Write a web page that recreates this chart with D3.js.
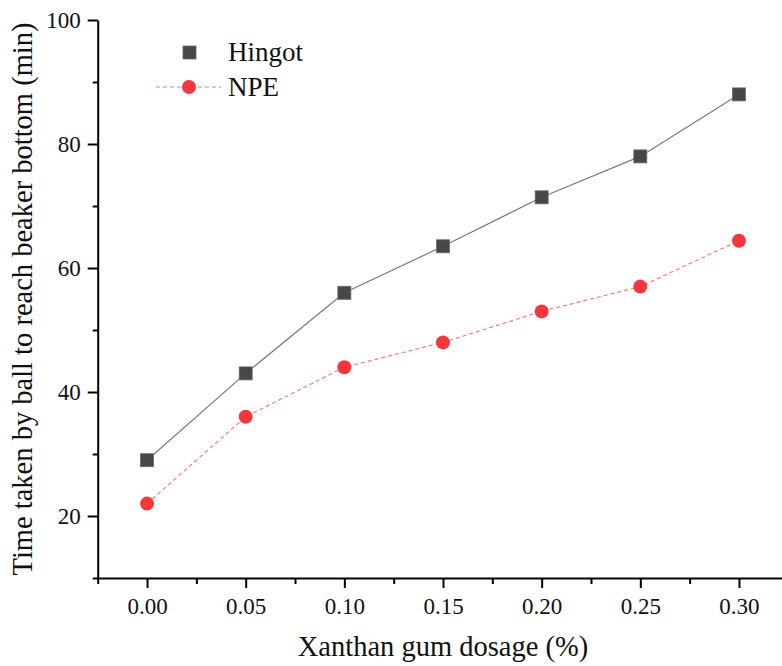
<!DOCTYPE html>
<html>
<head>
<meta charset="utf-8">
<script src="https://cdn.jsdelivr.net/npm/d3@7"></script>
<style>
  body { margin: 0; background: #fff; }
  svg { display: block; }
</style>
</head>
<body>
<div id="chart"></div>
<script>
// data
const dosage = [0.00, 0.05, 0.10, 0.15, 0.20, 0.25, 0.30];
const hingot = [29, 43, 56, 63.5, 71.4, 78, 88];
const npe = [22, 36, 44, 48, 53, 57, 64.4];
const yTicks = [20, 40, 60, 80, 100];
const yMinor = [10, 30, 50, 70, 90];
const xMinor = [-0.025, 0.025, 0.075, 0.125, 0.175, 0.225, 0.275, 0.325];

const width = 782, height = 666;
const font = "'Liberation Serif', 'Times New Roman', serif";

const svg = d3.select("#chart")
    .append("svg")
    .attr("width", width)
    .attr("height", height);

const x = d3.scaleLinear().domain([-0.025, 0.325]).range([97.7, 788.3]);
const y = d3.scaleLinear().domain([10, 100]).range([578, 20]);

// minor ticks
svg.append("g")
    .attr("transform", "translate(0,578)")
    .call(d3.axisBottom(x).tickValues(xMinor).tickSize(6).tickFormat(""))
    .call(g => g.select(".domain").remove())
    .selectAll("line").attr("stroke-width", 2);
svg.append("g")
    .attr("transform", "translate(97.7,0)")
    .call(d3.axisLeft(y).tickValues(yMinor).tickSize(5).tickFormat(""))
    .call(g => g.select(".domain").remove())
    .selectAll("line").attr("stroke-width", 2);

// x axis
const xAxis = svg.append("g")
    .attr("transform", "translate(0,578)")
    .call(d3.axisBottom(x).tickValues(dosage).tickSize(10).tickSizeOuter(0).tickPadding(10)
        .tickFormat(d3.format(".2f")));
xAxis.select(".domain").attr("stroke-width", 2);
xAxis.selectAll(".tick line").attr("stroke-width", 2);
xAxis.selectAll("text")
    .attr("font-family", font)
    .attr("font-size", "23px")
    .attr("fill", "#111");

// y axis
const yAxis = svg.append("g")
    .attr("transform", "translate(97.7,0)")
    .call(d3.axisLeft(y).tickValues(yTicks).tickSize(10).tickSizeOuter(0).tickPadding(7));
yAxis.select(".domain").attr("stroke-width", 2);
yAxis.selectAll(".tick line").attr("stroke-width", 2);
yAxis.selectAll("text")
    .attr("font-family", font)
    .attr("font-size", "23px")
    .attr("fill", "#111");

// axis titles
svg.append("text")
    .attr("x", 443)
    .attr("y", 656)
    .attr("text-anchor", "middle")
    .attr("font-family", font)
    .attr("font-size", "28.5px")
    .attr("fill", "#111")
    .text("Xanthan gum dosage (%)");

svg.append("text")
    .attr("transform", "translate(32,299) rotate(-90)")
    .attr("text-anchor", "middle")
    .attr("font-family", font)
    .attr("font-size", "28.5px")
    .attr("fill", "#111")
    .text("Time taken by ball to reach beaker bottom (min)");

// lines
const line = d3.line().x(d => x(d[0])).y(d => y(d[1]));
const hData = dosage.map((d, i) => [d, hingot[i]]);
const nData = dosage.map((d, i) => [d, npe[i]]);

svg.append("path")
    .datum(hData)
    .attr("d", line)
    .attr("fill", "none")
    .attr("stroke", "#7a7a7a")
    .attr("stroke-width", 1.2);

svg.append("path")
    .datum(nData)
    .attr("d", line)
    .attr("fill", "none")
    .attr("stroke", "#f57a7e")
    .attr("stroke-width", 1.2)
    .attr("stroke-dasharray", "4,3");

// markers
svg.selectAll("rect.h")
    .data(hData)
    .enter()
    .append("rect")
    .attr("class", "h")
    .attr("x", d => x(d[0]) - 6.5)
    .attr("y", d => y(d[1]) - 6.5)
    .attr("width", 13)
    .attr("height", 13)
    .attr("fill", "#474747")
    .attr("stroke", "#6a6a6a")
    .attr("stroke-width", 0.8);

svg.selectAll("circle.n")
    .data(nData)
    .enter()
    .append("circle")
    .attr("class", "n")
    .attr("cx", d => x(d[0]))
    .attr("cy", d => y(d[1]))
    .attr("r", 7)
    .attr("fill", "#f5373d");

// legend
const legend = svg.append("g");
legend.append("rect")
    .attr("x", 183).attr("y", 46)
    .attr("width", 13).attr("height", 13)
    .attr("fill", "#474747")
    .attr("stroke", "#6a6a6a")
    .attr("stroke-width", 0.8);
legend.append("text")
    .attr("x", 228).attr("y", 61)
    .attr("font-family", font)
    .attr("font-size", "27px")
    .attr("fill", "#111")
    .text("Hingot");
legend.append("line")
    .attr("x1", 156).attr("x2", 221)
    .attr("y1", 87).attr("y2", 87)
    .attr("stroke", "#f57a7e")
    .attr("stroke-width", 1.2)
    .attr("stroke-dasharray", "4,3");
legend.append("circle")
    .attr("cx", 189).attr("cy", 87)
    .attr("r", 7)
    .attr("fill", "#f5373d");
legend.append("text")
    .attr("x", 228).attr("y", 96)
    .attr("font-family", font)
    .attr("font-size", "27px")
    .attr("fill", "#111")
    .text("NPE");
</script>
</body>
</html>
